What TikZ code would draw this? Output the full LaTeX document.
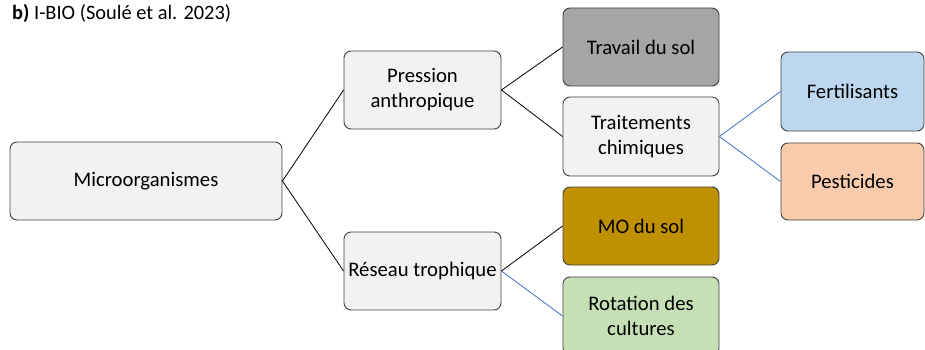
\documentclass[tikz,border=0pt]{standalone}
\usepackage{fontspec}
\setmainfont{Carlito}
\definecolor{boxgray}{HTML}{F2F2F2}
\definecolor{darkgray}{HTML}{A5A5A5}
\definecolor{gold}{HTML}{BF9000}
\definecolor{lblue}{HTML}{BDD7EE}
\definecolor{lorange}{HTML}{F8CBAD}
\definecolor{lgreen}{HTML}{C5E0B4}
\definecolor{edge}{HTML}{404040}
\definecolor{bline}{HTML}{4472C4}
\tikzset{
  bx/.style={draw=edge, line width=0.9pt, rounded corners=7pt, align=center, font=\fontsize{20.7}{25}\selectfont, inner sep=0pt},
  blk/.style={draw=black, line width=0.8pt},
  blu/.style={draw=bline, line width=0.8pt},
}
\begin{document}
\begin{tikzpicture}[x=1pt,y=-1pt]
\useasboundingbox (0,0) rectangle (925,350);
\clip (0,0) rectangle (925,350);
\node[anchor=base west, inner sep=0pt, font=\fontsize{20.4}{24}\selectfont] (title) at (12,20) {\textbf{b)} I-BIO (Soulé et al. 2023)};
\node[bx, fill=boxgray, minimum width=272pt, minimum height=78pt] (micro) at (146,181) {Microorganismes};
\node[bx, fill=boxgray, minimum width=157pt, minimum height=78pt] (press) at (422.5,90) {Pression\\anthropique};
\node[bx, fill=boxgray, minimum width=157pt, minimum height=78pt] (res) at (422.5,271) {Réseau trophique};
\node[bx, fill=darkgray, minimum width=156pt, minimum height=78pt] (trav) at (641,47) {Travail du sol};
\node[bx, fill=boxgray, minimum width=156pt, minimum height=79pt] (trait) at (641,136.5) {Traitements\\chimiques};
\node[bx, fill=gold, minimum width=156pt, minimum height=78pt] (mo) at (641,226) {MO du sol};
\node[bx, fill=lgreen, minimum width=156pt, minimum height=78pt] (rot) at (641,316) {Rotation des\\cultures};
\node[bx, fill=lblue, minimum width=143pt, minimum height=79pt] (fert) at (852.5,91.5) {Fertilisants};
\node[bx, fill=lorange, minimum width=143pt, minimum height=77pt] (pest) at (852.5,181.5) {Pesticides};
\draw[blk] (micro.east) -- (press.west);
\draw[blk] (micro.east) -- (res.west);
\draw[blk] (press.east) -- (trav.west);
\draw[blk] (press.east) -- (trait.west);
\draw[blk] (res.east) -- (mo.west);
\draw[blu] (res.east) -- (rot.west);
\draw[blu] (trait.east) -- (fert.west);
\draw[blu] (trait.east) -- (pest.west);
\end{tikzpicture}
\end{document}
